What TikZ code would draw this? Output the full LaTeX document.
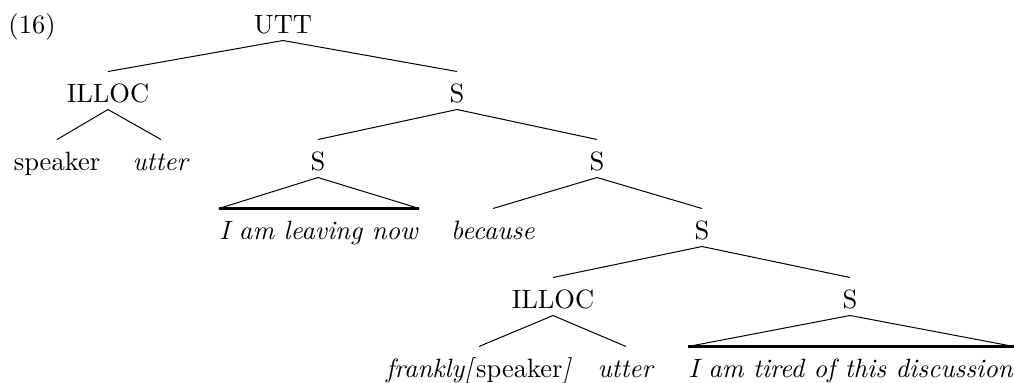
\documentclass[tikz,border=0pt]{standalone}
\usepackage{amsmath}
\usepackage{tikz}
\tikzstyle{every node}=[anchor=base,inner xsep=0pt,inner ysep=2.8pt,text height=9.2pt,text depth=0pt,font=\fontsize{10.6pt}{13pt}\selectfont]
\tikzstyle{roof}=[line width=1pt]

\begin{document}
\begin{tikzpicture}[x=0.4pt,y=-0.4pt]
\useasboundingbox (0,0) rectangle (1014,382);
\node (ex)       at (32,33)   {(16)};
\node (utt)      at (283,33)  {UTT};
\node (illoc_1)  at (108,102) {ILLOC};
\node (s_1)      at (457,102) {S};
\node (spk_1)    at (57,170)  {speaker};
\node (utter_1)  at (161,170) {\textit{utter}};
\node (s_2)      at (318,170) {S};
\node (s_3)      at (597,170) {S};
\node (leave)    at (319,239) {\textit{I am leaving now}};
\node (because)  at (493,239) {\textit{because}};
\node (s_4)      at (702,239) {S};
\node (illoc_2)  at (553,308) {ILLOC};
\node (s_5)      at (850,308) {S};
\node (spk_2)    at (479,377) {\textit{frankly[}speaker\textit{]}};
\node (utter_2)  at (626,377) {\textit{utter}};
\node (tired)    at (851,377) {\textit{I am tired of this discussion}};
\path	(utt.south)	edge (illoc_1.north)	edge (s_1.north)
	(illoc_1.south)	edge (spk_1.north)	edge (utter_1.north)
	(s_1.south)	edge (s_2.north)	edge (s_3.north)
	(s_3.south)	edge (because.north)	edge (s_4.north)
	(s_4.south)	edge (illoc_2.north)	edge (s_5.north)
	(illoc_2.south)	edge (spk_2.north)	edge (utter_2.north);
% roofs
\path	(s_2.south)	edge (leave.north west)	edge (leave.north east)
	(s_5.south)	edge (tired.north west)	edge (tired.north east);
\draw[roof] (leave.north west) -- (leave.north east);
\draw[roof] (tired.north west) -- (tired.north east);
\end{tikzpicture}
\end{document}
